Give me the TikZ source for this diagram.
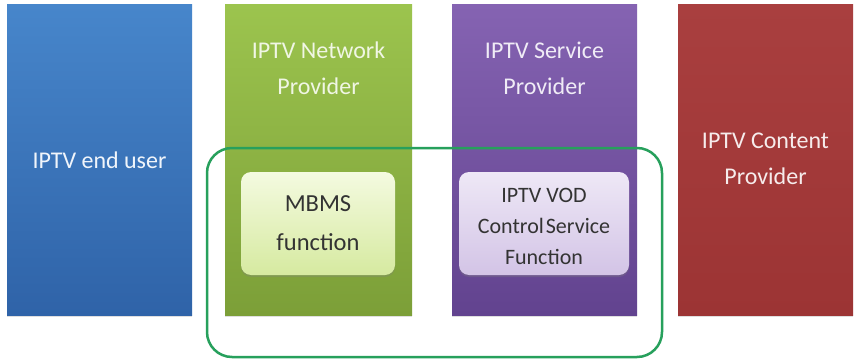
\documentclass[tikz,border=0pt]{standalone}
\usepackage{fontspec}
\setmainfont{Carlito}
\usetikzlibrary{shadows}
\definecolor{bluetop}{HTML}{4786CB}
\definecolor{bluebot}{HTML}{2F63A8}
\definecolor{greentop}{HTML}{9CC44E}
\definecolor{greenbot}{HTML}{7C9F38}
\definecolor{purptop}{HTML}{8563B2}
\definecolor{purpbot}{HTML}{62438F}
\definecolor{redtop}{HTML}{A93F3F}
\definecolor{redbot}{HTML}{9C3434}
\definecolor{mbmstop}{HTML}{F4FAE0}
\definecolor{mbmsbot}{HTML}{D6EAA0}
\definecolor{vodtop}{HTML}{EEE8F6}
\definecolor{vodbot}{HTML}{D3C4E6}
\definecolor{outline}{HTML}{27A05C}
\definecolor{darktext}{HTML}{333333}
\tikzset{
  bigbox/.style={draw=none, drop shadow={opacity=0.25, shadow xshift=0pt, shadow yshift=-2pt}},
  innerbox/.style={draw=none, rounded corners=10pt, drop shadow={opacity=0.3, shadow xshift=0pt, shadow yshift=-2pt}},
  bigtext/.style={align=center, font=\fontsize{24}{36}\selectfont, inner sep=0pt},
  innertext/.style={align=center, text=darktext, inner sep=0pt},
}
\begin{document}
\begin{tikzpicture}[x=1pt,y=1pt]
\useasboundingbox (0,0) rectangle (855,360);
\fill[white] (0,0) rectangle (855,360);
% big boxes
\path[bigbox, top color=bluetop, bottom color=bluebot] (7,45) rectangle (192,356);
\path[bigbox, top color=greentop, bottom color=greenbot] (225,45) rectangle (412,356);
\path[bigbox, top color=purptop, bottom color=purpbot] (452,45) rectangle (637,356);
\path[bigbox, top color=redtop, bottom color=redbot] (678,45) rectangle (853,356);
% big box texts
\node[bigtext, text=white!92!bluetop] (enduser) at (99.5,200) {IPTV end user};
\node[bigtext, text=white!85!greentop] (network) at (318.5,292) {IPTV Network\\Provider};
\node[bigtext, text=white!88!purptop] (service) at (544.5,292) {IPTV Service\\Provider};
\node[bigtext, text=white!90!redtop] (content) at (765.5,201) {IPTV Content\\Provider};
% inner boxes
\path[innerbox, top color=mbmstop, bottom color=mbmsbot] (241,85) rectangle (395,188);
\path[innerbox, top color=vodtop, bottom color=vodbot] (459,85) rectangle (629,188);
\node[innertext, font=\fontsize{24.5}{39}\selectfont] (mbms) at (318,137) {MBMS\\function};
\node[innertext, font=\fontsize{22}{31}\selectfont] (vod) at (544,134) {IPTV VOD\\Control\hspace{2pt}Service\\Function};
% green outline
\draw[outline, line width=2.5pt, rounded corners=25pt] (207,3) rectangle (662,212);
\end{tikzpicture}
\end{document}
